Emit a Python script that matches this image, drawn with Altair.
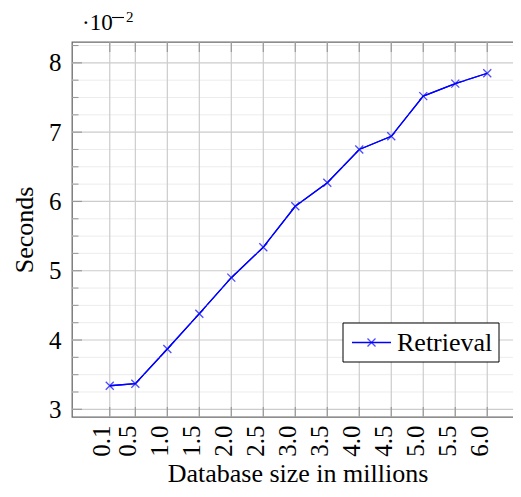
import altair as alt
import pandas as pd

# ---------------- data ----------------
size_millions = [0.1, 0.5, 1.0, 1.5, 2.0, 2.5, 3.0, 3.5, 4.0, 4.5, 5.0, 5.5, 6.0]
retrieval_seconds = [0.0334, 0.0337, 0.0387, 0.0438, 0.0490, 0.0534, 0.0593,
                     0.0627, 0.0675, 0.0694, 0.0752, 0.0770, 0.0785]
series_name = "Retrieval"
x_tick_values = size_millions
y_major_ticks = [0.03, 0.04, 0.05, 0.06, 0.07, 0.08]
y_minor_ticks = [0.0325, 0.035, 0.0375, 0.0425, 0.045, 0.0475, 0.0525, 0.055,
                 0.0575, 0.0625, 0.065, 0.0675, 0.0725, 0.075, 0.0775, 0.0825]

# ---------------- layout ----------------
W, H = 453, 375
SERIF = "Liberation Serif"
BLUE = "#0000ff"

xr = max(size_millions) - min(size_millions)
yr = max(retrieval_seconds) - min(retrieval_seconds)
xs = alt.Scale(domain=[min(size_millions) - 0.1 * xr, max(size_millions) + 0.1 * xr], nice=False, zero=False)
ys = alt.Scale(domain=[min(retrieval_seconds) - 0.1 * yr, max(retrieval_seconds) + 0.1 * yr], nice=False, zero=False)

x_axis = alt.Axis(
    values=x_tick_values, format=".1f", labelAngle=270, labelAlign="right",
    labelBaseline="alphabetic", labelPadding=8, labelFont=SERIF, labelFontSize=25,
    labelColor="black", labelOverlap=False, labelFlush=False, ticks=False, domain=False,
    grid=False, title="Database size in millions", titleFont=SERIF, titleFontSize=26,
    titleFontWeight="normal", titleColor="black", titleX=W / 2 - 1, titleY=64,
    titleBaseline="alphabetic", titleAlign="center")
y_axis = alt.Axis(
    values=y_major_ticks, labelExpr="format(datum.value*100, '.0f')", labelPadding=11,
    labelFont=SERIF, labelFontSize=25, labelColor="black", ticks=False, domain=False,
    grid=False, title="Seconds", titleFont=SERIF, titleFontSize=26, titleFontWeight="normal",
    titleColor="black", titleAngle=270, titleX=-40, titleY=H / 2, titleAlign="center",
    titleBaseline="alphabetic")


def X():
    return alt.X("x:Q", scale=xs, axis=x_axis)


def Y():
    return alt.Y("y:Q", scale=ys, axis=y_axis)


df = pd.DataFrame({"x": size_millions, "y": retrieval_seconds, "series": series_name})
df_xt = pd.DataFrame({"x": x_tick_values})
df_major = pd.DataFrame({"y": y_major_ticks})
df_minor = pd.DataFrame({"y": y_minor_ticks})
df_one = pd.DataFrame({"label": [series_name]})

line = alt.Chart(df).mark_line(color=BLUE, strokeWidth=1.3).encode(x=X(), y=Y())
points = alt.Chart(df).mark_point(shape="M-1,-1L1,1M-1,1L1,-1", filled=False, size=64,
                                  strokeWidth=1.3, color=BLUE).encode(x=X(), y=Y())

minor_grid = alt.Chart(df_minor).mark_rule(color="#ececec", strokeWidth=1).encode(
    y=Y(), x=alt.value(0), x2=alt.value(W))
major_grid = alt.Chart(df_major).mark_rule(color="#cccccc", strokeWidth=1.2).encode(
    y=Y(), x=alt.value(0), x2=alt.value(W))
x_grid = alt.Chart(df_xt).mark_rule(color="#cccccc", strokeWidth=1.2).encode(
    x=X(), y=alt.value(0), y2=alt.value(H))

tick_col = "#999999"
minor_l = alt.Chart(df_minor).mark_rule(color=tick_col, strokeWidth=1.1).encode(
    y=Y(), x=alt.value(0), x2=alt.value(6.5))
minor_r = alt.Chart(df_minor).mark_rule(color=tick_col, strokeWidth=1.1).encode(
    y=Y(), x=alt.value(W - 6.5), x2=alt.value(W))
major_l = alt.Chart(df_major).mark_rule(color=tick_col, strokeWidth=1.2).encode(
    y=Y(), x=alt.value(0), x2=alt.value(10))
major_r = alt.Chart(df_major).mark_rule(color=tick_col, strokeWidth=1.2).encode(
    y=Y(), x=alt.value(W - 10), x2=alt.value(W))
x_top = alt.Chart(df_xt).mark_rule(color=tick_col, strokeWidth=1.2).encode(
    x=X(), y=alt.value(0), y2=alt.value(10))
x_bot = alt.Chart(df_xt).mark_rule(color=tick_col, strokeWidth=1.2).encode(
    x=X(), y=alt.value(H - 10), y2=alt.value(H))

# exponent label  ·10^-2
exp_base = alt.Chart(df_one).mark_text(text="·10", align="left", baseline="alphabetic",
                                       font=SERIF, fontSize=23, color="black").encode(
    x=alt.value(10), y=alt.value(-12))
exp_minus = alt.Chart(df_one).mark_text(text="−", align="left", baseline="alphabetic",
                                        font=SERIF, fontSize=15, color="black").encode(
    x=alt.value(40), y=alt.value(-20))
exp_two = alt.Chart(df_one).mark_text(text="2", align="left", baseline="alphabetic",
                                      font=SERIF, fontSize=15, color="black").encode(
    x=alt.value(54), y=alt.value(-20))
exp_bar = alt.Chart(df_one).mark_rule(color="black", strokeWidth=1.1).encode(
    x=alt.value(40), x2=alt.value(52), y=alt.value(-24.5))

# legend
leg_box = alt.Chart(df_one).mark_rect(fill="white", stroke="black", strokeWidth=1).encode(
    x=alt.value(271), x2=alt.value(427), y=alt.value(281), y2=alt.value(320))
leg_line = alt.Chart(df_one).mark_rule(color=BLUE, strokeWidth=1.3).encode(
    x=alt.value(280), x2=alt.value(319), y=alt.value(300.5))
leg_pt = alt.Chart(df_one).mark_point(shape="M-1,-1L1,1M-1,1L1,-1", filled=False, size=64,
                                      strokeWidth=1.3, color=BLUE).encode(
    x=alt.value(299.5), y=alt.value(300.5))
leg_txt = alt.Chart(df_one).mark_text(align="left", baseline="alphabetic", font=SERIF,
                                      fontSize=26, color="black").encode(
    text="label:N", x=alt.value(325), y=alt.value(309))

chart = alt.layer(
    line,
    minor_grid, major_grid, x_grid,
    minor_l, minor_r, major_l, major_r, x_top, x_bot,
    alt.Chart(df).mark_line(color=BLUE, strokeWidth=1.3).encode(x=X(), y=Y()),
    points, exp_base, exp_bar, exp_two,
    leg_box, leg_line, leg_pt, leg_txt,
).properties(
    width=W, height=H,
    autosize=alt.AutoSizeParams(type="none"),
    padding={"left": 64, "top": 34, "right": -12, "bottom": 71},
).configure_view(stroke="#6a6a6a", strokeWidth=1.3)

chart.save("out.html", embed_options={"renderer": "svg", "actions": False})
